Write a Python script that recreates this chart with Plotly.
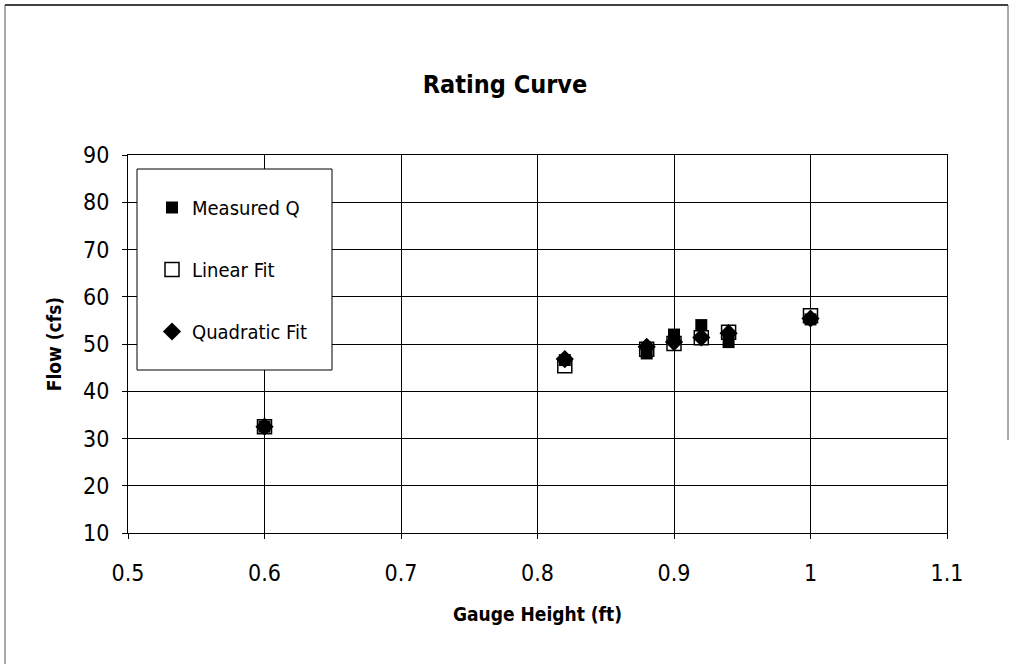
import plotly.graph_objects as go

gauge_height = [0.60, 0.82, 0.88, 0.90, 0.92, 0.94, 1.00]
measured_q = [32.5, 46.6, 48.0, 52.0, 54.0, 50.4, 55.2]
linear_fit = [32.5, 45.4, 48.9, 50.1, 51.3, 52.5, 56.0]
quadratic_fit = [32.5, 46.8, 49.4, 50.4, 51.4, 52.3, 55.4]

x_ticks = [0.5, 0.6, 0.7, 0.8, 0.9, 1.0, 1.1]
x_tick_text = ["0.5", "0.6", "0.7", "0.8", "0.9", "1", "1.1"]
y_ticks = [10, 20, 30, 40, 50, 60, 70, 80, 90]

FONT = "DejaVu Sans Condensed, DejaVu Sans"
W, H = 1010, 664
L, R, T, B = 128, 63, 155, 131
pw, ph = W - L - R, H - T - B

def px(x):
    return (x - L) / pw

def py(y):
    return (H - B - y) / ph

def f(size, weight="normal"):
    return dict(family=FONT, size=size, color="black", weight=weight)

fig = go.Figure()
fig.add_trace(go.Scatter(
    x=gauge_height, y=linear_fit, mode="markers", name="Linear Fit",
    legendgroup="b", legendrank=2,
    marker=dict(symbol="square", size=14, color="white",
                line=dict(color="black", width=1.5))))
fig.add_trace(go.Scatter(
    x=gauge_height, y=measured_q, mode="markers", name="Measured Q",
    legendgroup="a", legendrank=1,
    marker=dict(symbol="square", size=12, color="black",
                line=dict(color="black", width=0))))
fig.add_trace(go.Scatter(
    x=gauge_height, y=quadratic_fit, mode="markers", name="Quadratic Fit",
    legendgroup="c", legendrank=3,
    marker=dict(symbol="diamond", size=14, color="black",
                line=dict(color="black", width=0))))

shapes = [
    dict(type="rect", xref="paper", yref="paper",
         x0=px(137), x1=px(332), y0=py(370), y1=py(169),
         fillcolor="white", line=dict(color="black", width=1), layer="above"),
    dict(type="line", xref="paper", yref="paper",
         x0=px(5), x1=px(1008), y0=py(5), y1=py(5),
         line=dict(color="black", width=1.5)),
    dict(type="line", xref="paper", yref="paper",
         x0=px(5), x1=px(5), y0=py(5), y1=py(664),
         line=dict(color="#555", width=1)),
    dict(type="line", xref="paper", yref="paper",
         x0=px(1008), x1=px(1008), y0=py(5), y1=py(440),
         line=dict(color="#555", width=1)),
]

fig.update_layout(
    width=W, height=H,
    margin=dict(l=L, r=R, t=T, b=B, autoexpand=False),
    paper_bgcolor="white", plot_bgcolor="white",
    font=f(18),
    title=dict(text="<b>Rating Curve</b>", x=0.5, xanchor="center", xref="container",
               y=1 - 84 / H, yanchor="middle", yref="container",
               font=f(25, "bold")),
    showlegend=True,
    legend=dict(x=px(152), y=py(188), xanchor="left", yanchor="top",
                bgcolor="rgba(0,0,0,0)", borderwidth=0,
                tracegroupgap=33, itemsizing="trace",
                font=f(20)),
    xaxis=dict(range=[0.5, 1.1], tickvals=x_ticks, ticktext=x_tick_text,
               showgrid=True, gridcolor="black", gridwidth=1,
               showline=True, linecolor="black", linewidth=1, mirror=True,
               ticks="outside", ticklen=5, tickcolor="black",
               ticklabelstandoff=14,
               zeroline=False, tickfont=f(23),
               title=dict(text="<b>Gauge Height (ft)</b>", standoff=23,
                          font=f(19, "bold"))),
    yaxis=dict(range=[10, 90], tickvals=y_ticks,
               showgrid=True, gridcolor="black", gridwidth=1,
               showline=True, linecolor="black", linewidth=1, mirror=True,
               ticks="outside", ticklen=5, tickcolor="black",
               ticklabelstandoff=8,
               zeroline=False, tickfont=f(23),
               title=dict(text="<b>Flow (cfs)</b>", standoff=16,
                          font=f(19, "bold"))),
    shapes=shapes,
)

fig.write_html("out.html", config={"displayModeBar": False},
               post_script="document.body.style.margin='0';")
